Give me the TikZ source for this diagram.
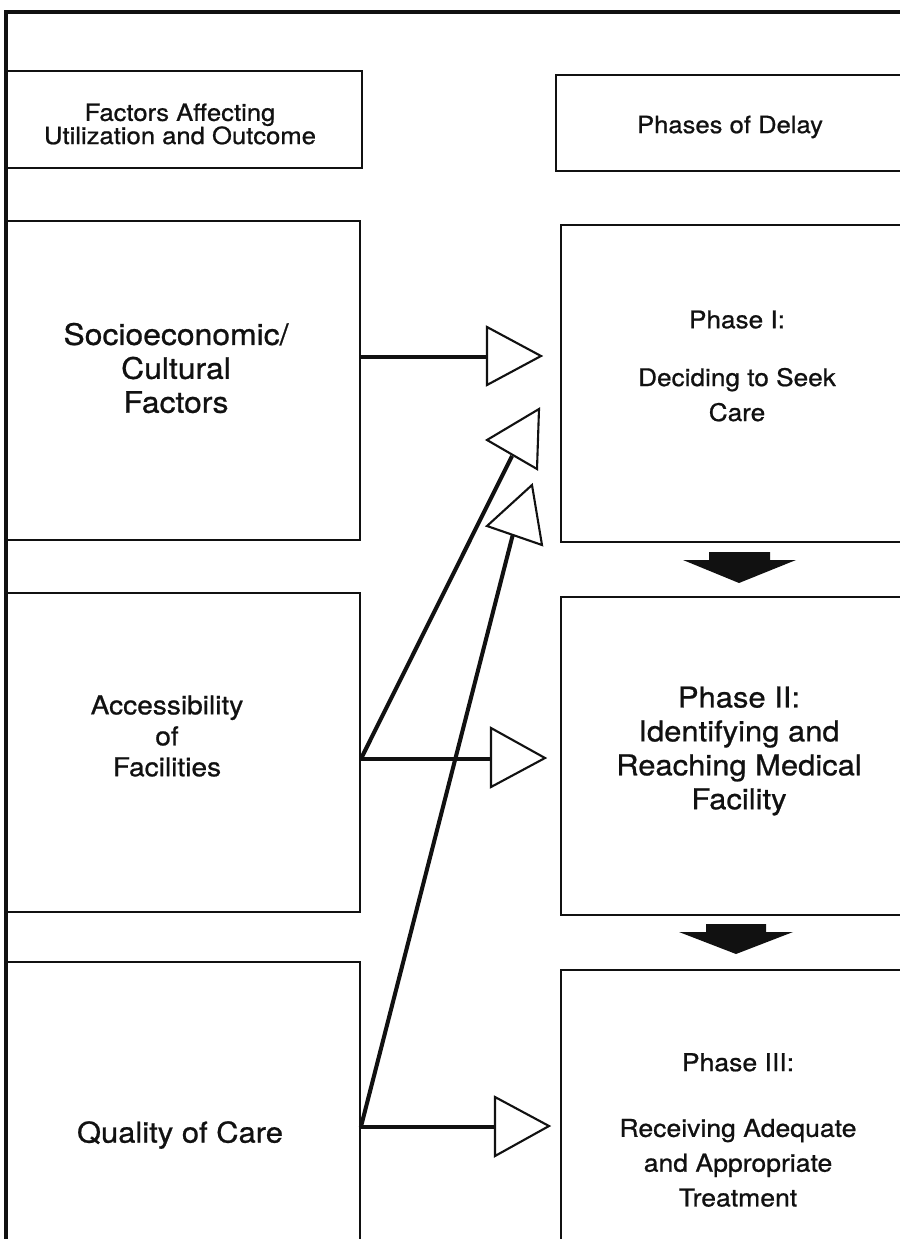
\documentclass[tikz,border=0pt]{standalone}
\usepackage{fontspec}
\setmainfont{TeX Gyre Heros}[FakeStretch=1.08, FakeBold=0.8]
\usepackage{xcolor}
\definecolor{figInk}{HTML}{111111}
\usetikzlibrary{fit,calc}
\tikzset{
    panel/.style={
        draw=figInk,
        rectangle,
        line width=1pt,
        inner sep=0pt
    },
    paneltext/.style={
        align=center,
        inner sep=0pt,
        text=figInk
    },
    link/.style={
        draw=figInk,
        line width=2.3pt
    },
    openhead/.style={
        draw=figInk,
        fill=white,
        line width=1.2pt,
        line join=miter
    },
    stepdown/.style={
        fill=figInk
    }
}

\begin{document}
\begin{tikzpicture}[x=0.2mm, y=-0.2mm]
    \useasboundingbox (0,0) rectangle (899,1239);
    % Outer frame
    \draw[figInk, line width=2.2pt] (6,1250) -- (6,12) -- (910,12);

    % Factors column
    \node[panel, fit={(6,71) (362,168)}] (hdrL) {};
    \node[panel, fit={(6,221) (360,540)}] (socio) {};
    \node[panel, fit={(6,593) (360,912)}] (access) {};
    \node[panel, fit={(6,962) (360,1250)}] (quality) {};

    % Phases column
    \node[panel, fit={(556,75) (905,171)}] (hdrR) {};
    \node[panel, fit={(561,225) (905,542)}] (phaseI) {};
    \node[panel, fit={(561,597) (905,915)}] (phaseII) {};
    \node[panel, fit={(561,970) (905,1250)}] (phaseIII) {};

    % Texts
    \node[paneltext, font=\fontsize{13.5}{13.2}\selectfont] (hdrL-txt) at (180,124)
        {Factors Affecting\\Utilization and Outcome};
    \node[paneltext, font=\fontsize{13.5}{13.2}\selectfont] (hdrR-txt) at (730,127)
        {Phases of Delay};
    \node[paneltext, font=\fontsize{16.8}{19.3}\selectfont] (socio-txt) at (176,368)
        {Socioeconomic/\\Cultural\\Factors};
    \node[paneltext, font=\fontsize{14.8}{17.6}\selectfont] (access-txt) at (167,736)
        {Accessibility\\of\\Facilities};
    \node[paneltext, font=\fontsize{16.3}{19}\selectfont] (quality-txt) at (180,1135)
        {Quality of Care};
    \node[paneltext, font=\fontsize{13.8}{19.9}\selectfont] (phaseI-txt) at (737,366)
        {Phase I:\\[13pt]Deciding to Seek\\Care};
    \node[paneltext, font=\fontsize{16.3}{19.3}\selectfont] (phaseII-txt) at (739,751)
        {Phase II:\\Identifying and\\Reaching Medical\\Facility};
    \node[paneltext, font=\fontsize{14}{19.8}\selectfont] (phaseIII-txt) at (738,1130)
        {Phase III:\\[17.6pt]Receiving Adequate\\and Appropriate\\Treatment};

    % Arrow ends
    \coordinate (headA) at (487,357);
    \coordinate (headB) at (491,759);
    \coordinate (headC) at (495,1127);
    \coordinate (headD) at (512,456);
    \coordinate (headE) at (513,534);

    % Arrows
    \draw[link] (socio.east |- headA) -- (headA);
    \draw[link] (access.east |- headB) -- (headB);
    \draw[link] (quality.east |- headC) -- (headC);
    \draw[link] (access.east |- headB) -- (headD);
    \draw[link] (quality.east |- headC) -- (headE);

    \draw[openhead] (487,327) -- (541,356) -- (487,385) -- cycle;
    \draw[openhead] (491,728) -- (545,758) -- (491,787) -- cycle;
    \draw[openhead] (495,1097) -- (549,1126) -- (495,1156) -- cycle;
    \draw[openhead] (539,409) -- (487,440) -- (537,469) -- cycle;
    \draw[openhead] (532,485) -- (487,526) -- (542,545) -- cycle;

    % Phase to phase
    \fill[stepdown] (709,552) -- (770,552) -- (770,560) -- (796,560) -- (739,583)
        -- (683,560) -- (709,560) -- cycle;
    \fill[stepdown] (706,924) -- (766,924) -- (766,932) -- (793,932) -- (736,954)
        -- (679,932) -- (706,932) -- cycle;
\end{tikzpicture}
\end{document}
